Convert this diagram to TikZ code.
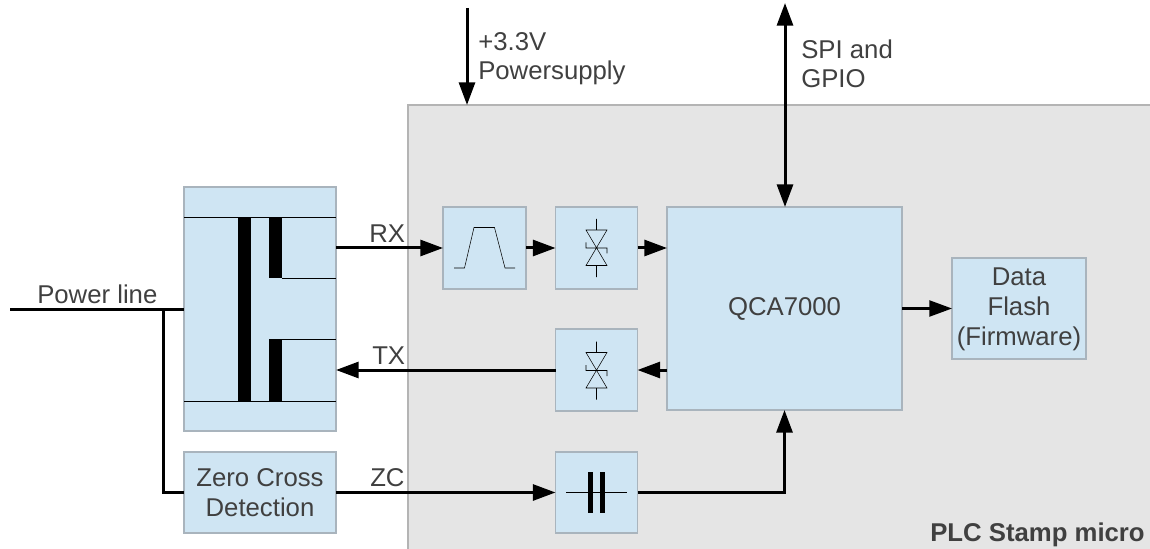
\documentclass[tikz,border=0pt]{standalone}
\usepackage{fontspec}
\setmainfont{Liberation Sans}
\usetikzlibrary{arrows.meta}
\definecolor{blk}{HTML}{CFE5F3}
\definecolor{bedge}{HTML}{A9B4BD}
\definecolor{greyb}{HTML}{E5E5E5}
\definecolor{greye}{HTML}{B4B4B4}
\definecolor{txt}{HTML}{404040}
\definecolor{thin}{HTML}{555A60}
\tikzset{
  bx/.style={draw=bedge,fill=blk,line width=1pt,inner sep=0pt,outer sep=0pt,align=center,text=txt,font=\fontsize{19.3}{22.4}\selectfont},
  lbl/.style={anchor=base west,inner sep=0pt,text=txt,font=\fontsize{19.3}{22.4}\selectfont},
  conn/.style={line width=2.25pt,black,-{Triangle[length=17pt,width=12pt]}},
  both/.style={line width=2.25pt,black,{Triangle[length=17pt,width=12pt]}-{Triangle[length=17pt,width=12pt]}},
  plain/.style={line width=2.25pt,black},
  sym/.style={line width=.65pt,thin},
  bar/.style={fill=black,draw=none}
}
\newcommand{\pbox}[6]{\node[bx,minimum width={(#4-#2)*0.75pt},minimum height={(#5-#3)*0.75pt}] (#1) at ({(#2+#4)/2},{(#3+#5)/2}) {#6};}
\newcommand{\tvs}[2]{%
  \draw[sym] (#1,#2-28.5) -- (#1,#2-17.5) (#1-10.5,#2-17.5) -- (#1+10.5,#2-17.5) -- (#1-10.5,#2+18) -- (#1+10.5,#2+18) -- cycle
    (#1,#2+18) -- (#1,#2+29.5)
    (#1-10.5,#2-5) -- (#1-10.5,#2+.5) -- (#1+10.5,#2+.5) -- (#1+10.5,#2+6);}
\begin{document}
\begin{tikzpicture}[x=0.75pt,y=-0.75pt]
\useasboundingbox (0,0) rectangle (1150,549);
\fill[greyb] (408,105) rectangle (1150,549);
\draw[greye,line width=.8pt] (1150,105) -- (408,105) -- (408,549);
% blocks
\pbox{trafo}{184}{187}{336}{431}{}
\pbox{zcd}{184}{452}{336}{533}{Zero Cross\\Detection}
\pbox{filter}{443}{207}{526}{289}{}
\pbox{dioa}{555.5}{207}{637.5}{289}{}
\pbox{diob}{555.5}{329}{637.5}{411}{}
\pbox{cap}{555.5}{452}{637.5}{533}{}
\pbox{qca}{667}{207}{902}{410}{\raisebox{-2pt}{QCA7000}}
\pbox{flash}{952}{258}{1086}{359}{\rule{0pt}{15pt}Data\\Flash\\(Firmware)}
% transformer symbol
\draw[sym] (184,217) -- (336,217) (184,401) -- (336,401) (282,278) -- (336,278) (282,339) -- (336,339);
\fill[bar] (238,217) rectangle (251,401);
\fill[bar] (269,217) rectangle (282,278);
\fill[bar] (269,339) rectangle (282,401);
% filter symbol
\draw[sym] (454,268) -- (464.5,268) -- (474,227.5) -- (494.5,227.5) -- (505,268) -- (515,268);
% TVS symbols
\tvs{596.5}{247.5}
\tvs{596.5}{370}
% capacitor symbol
\draw[sym] (566,492) -- (627,492);
\fill[bar] (588,472) rectangle (593,513);
\fill[bar] (600,472) rectangle (605,513);
% free ends
\coordinate (plin) at (10,309);
\coordinate (tap) at (163,309);
\coordinate (vin) at (467,8);
\coordinate (vend) at (467,105);
\coordinate (spi) at (785,3);
% connectors
\draw[plain] (plin) -- (trafo.west);
\draw[plain] (tap) -- (tap |- zcd.west) -- (zcd.west);
\draw[conn] (vin) -- (vend);
\draw[both] (spi) -- (spi |- qca.north);
\draw[conn] (filter.west -| trafo.east) -- (filter.west);
\draw[conn] (filter.east) -- (dioa.west);
\draw[conn] (dioa.east) -- (dioa.east -| qca.west);
\draw[conn] (diob.east -| qca.west) -- (diob.east);
\draw[conn] (diob.west) -- (diob.west -| trafo.east);
\draw[conn,line width=1.7pt] (qca.east |- flash.west) -- (flash.west);
\draw[conn] (zcd.east) -- (cap.west);
\draw[conn] (cap.east) -| (qca.south);
% labels
\node[lbl] (lpl) at (37,303) {Power line};
\node[lbl] (lrx) at (369,243) {RX};
\node[lbl] (ltx) at (372,364) {TX};
\node[lbl] (lzc) at (370,486) {ZC};
\node[lbl] (lv1) at (478,51) {+3.3V};
\node[lbl] (lv2) at (478,80) {Powersupply};
\node[lbl] (ls1) at (801,59) {SPI and};
\node[lbl] (ls2) at (801,88) {GPIO};
\node[lbl,anchor=base east,font=\fontsize{19.3}{22.4}\selectfont\bfseries] (lplc) at (1145,541) {PLC Stamp micro};
\end{tikzpicture}
\end{document}
